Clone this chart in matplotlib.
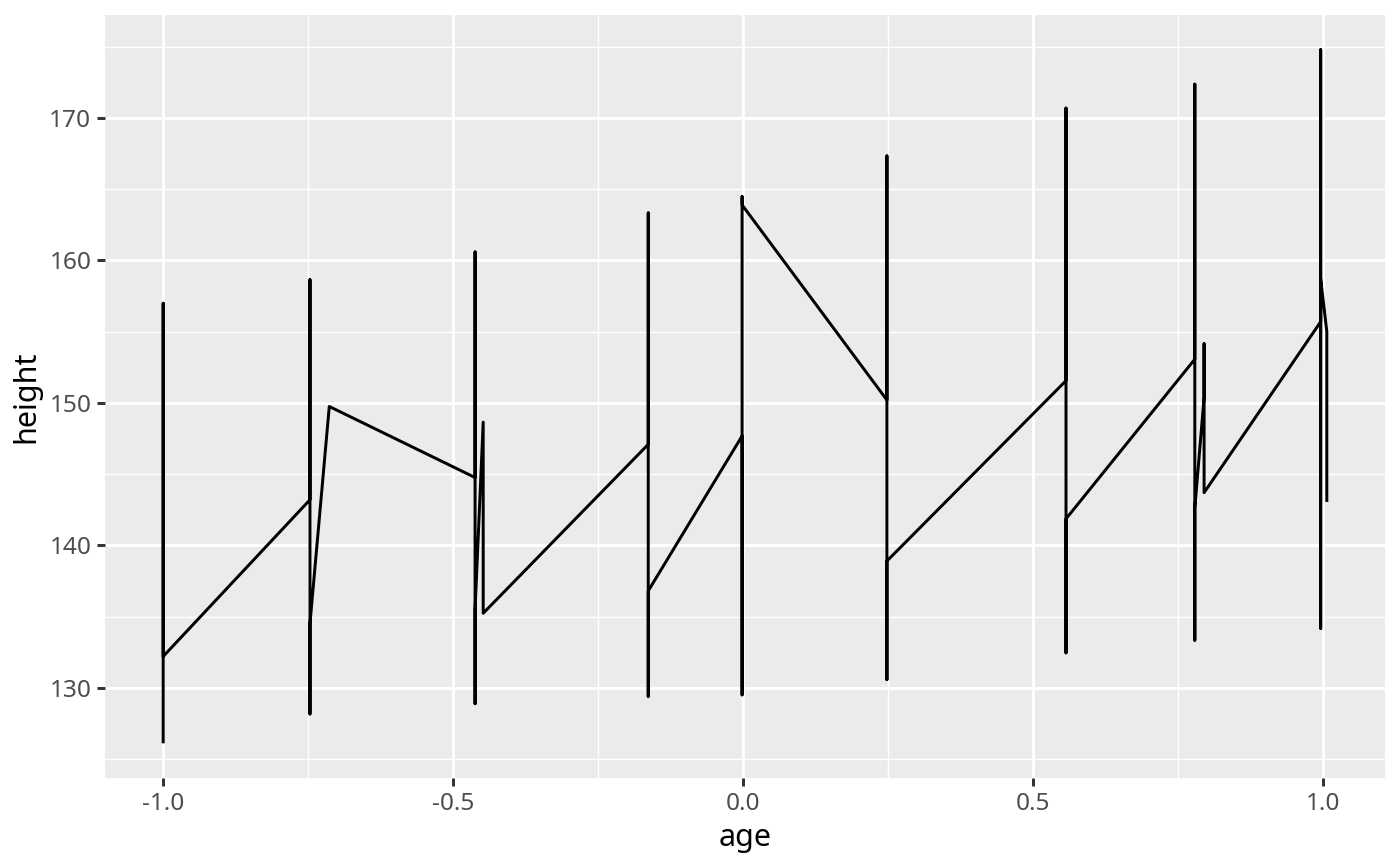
import matplotlib
matplotlib.use("Agg")
import matplotlib.pyplot as plt
from matplotlib.ticker import MultipleLocator

plt.rcParams["font.family"] = ["Noto Sans", "DejaVu Sans"]

PANEL_BG = "#EBEBEB"
TEXT_GREY = "#4D4D4D"
TICK_GREY = "#333333"

# path of the line, in drawing order (ages tie within each measurement occasion)
age = [
    -1.0, -1.0, -1.0,
    -0.7468, -0.7468, -0.7468, -0.7468,
    -0.7135,
    -0.462, -0.462, -0.462, -0.462,
    -0.448, -0.448,
    -0.1633, -0.1633, -0.1633, -0.1633,
    -0.0014, -0.0014, -0.0014, -0.0014,
    0.2484, 0.2484, 0.2484, 0.2484,
    0.5573, 0.5573, 0.5573, 0.5573,
    0.7795, 0.7795, 0.7795, 0.7795,
    0.7955, 0.7955, 0.7955,
    0.9966, 0.9966, 0.9966, 0.9966,
    1.0072, 1.0072,
]
height = [
    126.1, 157.0, 132.2,
    143.2, 158.65, 128.16, 134.5,
    149.75,
    144.76, 160.6, 128.88, 135.5,
    148.65, 135.23,
    147.09, 163.34, 129.4, 136.8,
    147.68, 129.5, 164.48, 163.9,
    150.2, 167.34, 130.57, 138.9,
    151.56, 170.7, 132.45, 141.86,
    153.07, 172.38, 133.34, 142.6,
    150.4, 154.15, 143.7,
    155.7, 174.8, 134.17, 158.7,
    155.0, 143.05,
]


def padded(values, frac=0.05):
    lo, hi = min(values), max(values)
    pad = (hi - lo) * frac
    return lo - pad, hi + pad


fig = plt.figure(figsize=(7, 4.33), dpi=200)
ax = fig.add_axes([105 / 1400, 1 - 778 / 866, 1280 / 1400, 763 / 866])
ax.set_facecolor(PANEL_BG)

ax.plot(age, height, color="black", lw=1.07, solid_capstyle="butt", solid_joinstyle="round", zorder=3)

ax.set_xlim(*padded(age))
ax.set_ylim(*padded(height))

ax.xaxis.set_major_locator(MultipleLocator(0.5))
ax.xaxis.set_minor_locator(MultipleLocator(0.25))
ax.yaxis.set_major_locator(MultipleLocator(10))
ax.yaxis.set_minor_locator(MultipleLocator(5))
ax.xaxis.set_major_formatter(lambda v, pos: f"{v:.1f}")
ax.yaxis.set_major_formatter(lambda v, pos: f"{v:.0f}")

ax.grid(True, which="major", color="white", lw=1.07)
ax.grid(True, which="minor", color="white", lw=0.53)
ax.set_axisbelow(True)

for side in ax.spines.values():
    side.set_visible(False)

ax.tick_params(which="major", length=2.75, width=1.07, color=TICK_GREY,
               labelsize=8.8, labelcolor=TEXT_GREY, pad=2.2)
ax.tick_params(which="minor", length=0)

ax.set_xlabel("age", fontsize=11, color="black", labelpad=2.5)
ax.set_ylabel("height", fontsize=11, color="black", labelpad=3)

fig.savefig("out.png", dpi=200, facecolor="white")
